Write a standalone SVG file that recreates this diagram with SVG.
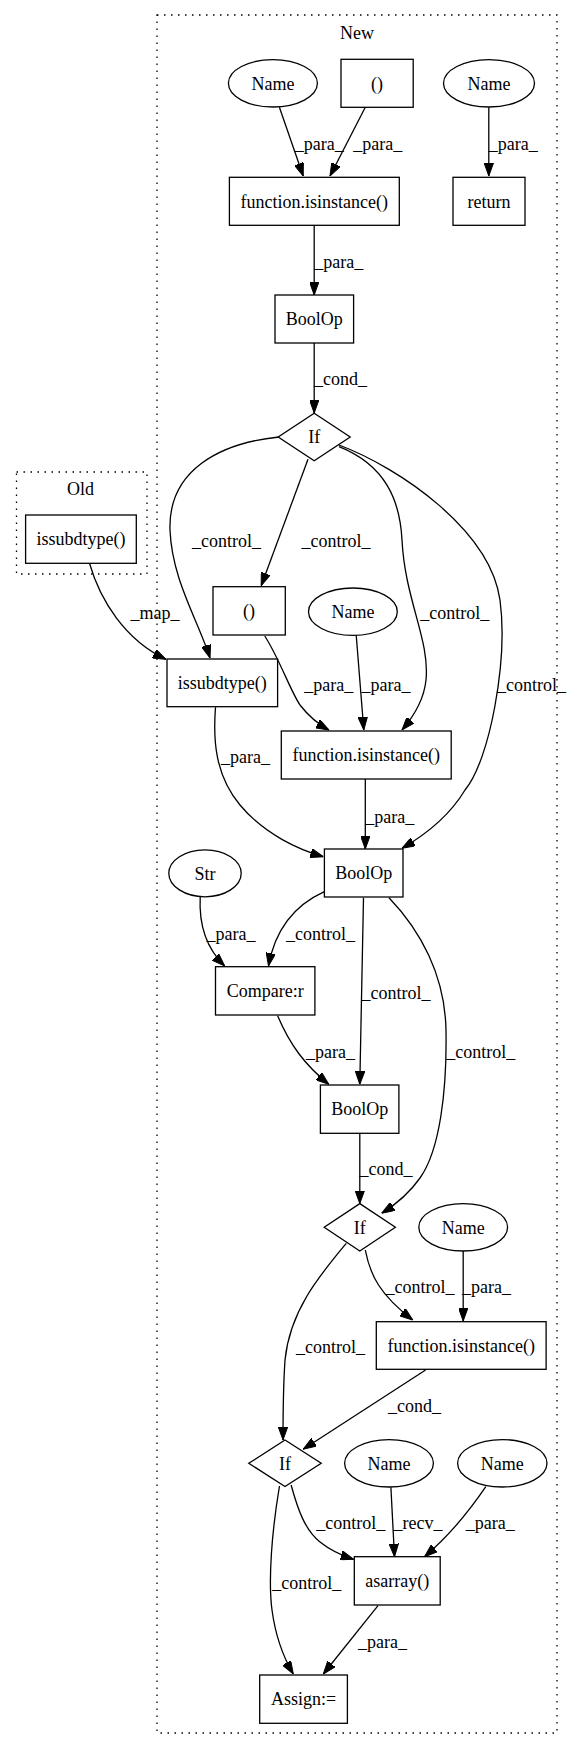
<svg xmlns="http://www.w3.org/2000/svg" width="573" height="1750" viewBox="0 0 573 1750" font-family="'Liberation Serif', 'Times New Roman', Times, serif">
<style>
text{font-family:'Liberation Serif','Times New Roman',Times,serif;font-size:18px;fill:#000;text-anchor:middle}
.n rect,.n ellipse,.n polygon{fill:#fff;stroke:#000;stroke-width:1.3}
.cl{fill:none;stroke:#000;stroke-width:1.3;stroke-dasharray:1.5,5.5}
.e path{fill:none;stroke:#000;stroke-width:1.3;marker-end:url(#ah)}
</style>
<defs>
<marker id="ah" markerUnits="userSpaceOnUse" viewBox="0 0 13 9.4" markerWidth="13" markerHeight="9.4" refX="13" refY="4.7" orient="auto">
<path d="M0,0 L13,4.7 L0,9.4 z" fill="#000" stroke="#000" stroke-width="1"/>
</marker>
</defs>
<rect width="573" height="1750" fill="#fff"/>
<g id="cluster_new"><rect class="cl" x="157" y="15" width="400" height="1718"/><text x="357" y="39">New</text></g>
<g id="cluster_old"><rect class="cl" x="16.5" y="472" width="130.5" height="102"/><text x="80.5" y="495">Old</text></g>

<g id="edges" class="e">
<path d="M279.4,107.3 L303.2,176"/>
<path d="M365.3,107.3 L330,176"/>
<path d="M488.8,107.3 L488.8,176"/>
<path d="M314.2,225.3 L314.2,295"/>
<path d="M314.2,343 L314.2,413"/>
<path d="M279,437 C220,443 168,470 170,530 C172,580 198,620 210,658"/>
<path d="M308,459.3 L261.2,585.7"/>
<path d="M339,446.7 C385,465 400,500 402,540 C405,600 430,640 426,680 C424,700 414,716 402,730"/>
<path d="M339,445 C400,468 490,530 500,600 C508,660 490,760 465,790 C450,815 425,835 402,848.3"/>
<path d="M89.5,563.3 C100,600 125,640 166,659.3"/>
<path d="M264.8,636 C280,660 290,690 300,705 C310,718 318,724 329,730"/>
<path d="M356.2,635 L363.8,730"/>
<path d="M215.5,707.3 C213,740 215,775 240,805 C265,835 300,850 323.3,856.7"/>
<path d="M365.3,779 L365.3,849"/>
<path d="M200.2,896.7 C199,920 203,945 224.7,966"/>
<path d="M324.4,891.7 C295,905 275,930 268.5,966"/>
<path d="M363.5,897.7 L359.8,1084.3"/>
<path d="M389,897.7 C420,930 445,975 446,1030 C447,1090 440,1150 420,1178 C408,1195 395,1205 381.7,1213.3"/>
<path d="M277.6,1015.7 C290,1045 305,1065 328.8,1084.3"/>
<path d="M359.8,1133.3 L359.8,1203.6"/>
<path d="M365.3,1250 C370,1275 380,1295 412.8,1320"/>
<path d="M463.2,1251 L463.2,1321"/>
<path d="M346.3,1243.3 C320,1275 290,1310 285,1360 C283,1390 283,1420 283,1440"/>
<path d="M425.6,1370 L303.2,1449.3"/>
<path d="M291.1,1485 C298,1510 305,1530 320,1542 C330,1550 340,1555 353.6,1559.3"/>
<path d="M390.9,1487.3 L394.5,1556.7"/>
<path d="M485.8,1486.7 C470,1510 450,1535 424.5,1556.7"/>
<path d="M279.5,1486 C272,1530 268,1580 272,1610 C276,1640 285,1660 293.3,1674"/>
<path d="M378,1605.7 L323.3,1674"/>
</g>
<g id="edge_labels">
<text x="319.3" y="150">_para_</text>
<text x="377.7" y="150">_para_</text>
<text x="513.3" y="150">_para_</text>
<text x="338.8" y="268">_para_</text>
<text x="340.5" y="385">_cond_</text>
<text x="226.5" y="546.7">_control_</text>
<text x="336" y="546.7">_control_</text>
<text x="454.8" y="618.7">_control_</text>
<text x="531.5" y="691">_control_</text>
<text x="154.9" y="619.3">_map_</text>
<text x="328.8" y="691">_para_</text>
<text x="386.1" y="691">_para_</text>
<text x="245.5" y="762.7">_para_</text>
<text x="389.8" y="822.7">_para_</text>
<text x="230.9" y="940">_para_</text>
<text x="320.4" y="940">_control_</text>
<text x="396" y="999.3">_control_</text>
<text x="330.6" y="1057.7">_para_</text>
<text x="480.7" y="1057.7">_control_</text>
<text x="386.1" y="1175.3">_cond_</text>
<text x="420" y="1293.3">_control_</text>
<text x="486.6" y="1293.3">_para_</text>
<text x="330.6" y="1352.7">_control_</text>
<text x="414.6" y="1412">_cond_</text>
<text x="350.7" y="1529.3">_control_</text>
<text x="417.9" y="1529.3">_recv_</text>
<text x="490.2" y="1529.3">_para_</text>
<text x="306.8" y="1588.7">_control_</text>
<text x="382.5" y="1647.7">_para_</text>
</g>

<g id="name1" class="n"><ellipse cx="272.9" cy="83.3" rx="44.5" ry="23.7"/><text x="272.9" y="89.5">Name</text></g>
<g id="tuple1" class="n"><rect x="341" y="59.3" width="72.2" height="48"/><text x="377.1" y="89.5">()</text></g>
<g id="name2" class="n"><ellipse cx="489" cy="83.3" rx="45.5" ry="23.7"/><text x="489" y="89.5">Name</text></g>
<g id="isinstance1" class="n"><rect x="229.4" y="177.3" width="169.9" height="48"/><text x="314.3" y="207.5">function.isinstance()</text></g>
<g id="return" class="n"><rect x="453" y="177.3" width="72" height="48"/><text x="489" y="207.5">return</text></g>
<g id="boolop1" class="n"><rect x="275" y="295" width="78.6" height="48"/><text x="314.3" y="325.2">BoolOp</text></g>
<g id="if1" class="n"><polygon points="314.2,413.3 350.2,437 314.2,460.7 278.2,437"/><text x="314.2" y="443.2">If</text></g>
<g id="issubdtype_old" class="n"><rect x="25.6" y="515" width="110.7" height="48.3"/><text x="81" y="545.3">issubdtype()</text></g>
<g id="tuple2" class="n"><rect x="213" y="586.7" width="72.3" height="48.3"/><text x="249.1" y="617">()</text></g>
<g id="name3" class="n"><ellipse cx="352.9" cy="611.7" rx="44.4" ry="23.7"/><text x="352.9" y="617.9">Name</text></g>
<g id="issubdtype_new" class="n"><rect x="167" y="659" width="110.6" height="47.7"/><text x="222.3" y="689">issubdtype()</text></g>
<g id="isinstance2" class="n"><rect x="281.3" y="731" width="169.9" height="48"/><text x="366.2" y="761.2">function.isinstance()</text></g>
<g id="boolop2" class="n"><rect x="324.4" y="849" width="78.6" height="48"/><text x="363.7" y="879.2">BoolOp</text></g>
<g id="str" class="n"><ellipse cx="205" cy="873.3" rx="36.2" ry="23.5"/><text x="205" y="879.5">Str</text></g>
<g id="compare" class="n"><rect x="215.5" y="966.7" width="99.4" height="48.3"/><text x="265.2" y="997">Compare:r</text></g>
<g id="boolop3" class="n"><rect x="320.4" y="1085" width="78.5" height="48.3"/><text x="359.7" y="1115.3">BoolOp</text></g>
<g id="if2" class="n"><polygon points="359.8,1203.6 395.4,1227.3 359.8,1251 324.2,1227.3"/><text x="359.8" y="1233.5">If</text></g>
<g id="name4" class="n"><ellipse cx="463.2" cy="1227.3" rx="44.4" ry="23.7"/><text x="463.2" y="1233.5">Name</text></g>
<g id="isinstance3" class="n"><rect x="376.3" y="1321.7" width="169.8" height="47.6"/><text x="461.2" y="1351.7">function.isinstance()</text></g>
<g id="if3" class="n"><polygon points="285,1440 321.2,1463.3 285,1486.6 248.8,1463.3"/><text x="285" y="1469.5">If</text></g>
<g id="name5" class="n"><ellipse cx="389" cy="1463.3" rx="44.4" ry="23.7"/><text x="389" y="1469.5">Name</text></g>
<g id="name6" class="n"><ellipse cx="502.3" cy="1463.3" rx="44.7" ry="23.7"/><text x="502.3" y="1469.5">Name</text></g>
<g id="asarray" class="n"><rect x="354.3" y="1556.7" width="85.9" height="48.3"/><text x="397.3" y="1587">asarray()</text></g>
<g id="assign" class="n"><rect x="259.7" y="1675" width="87.7" height="48.3"/><text x="303.6" y="1705.3">Assign:=</text></g>
</svg>
